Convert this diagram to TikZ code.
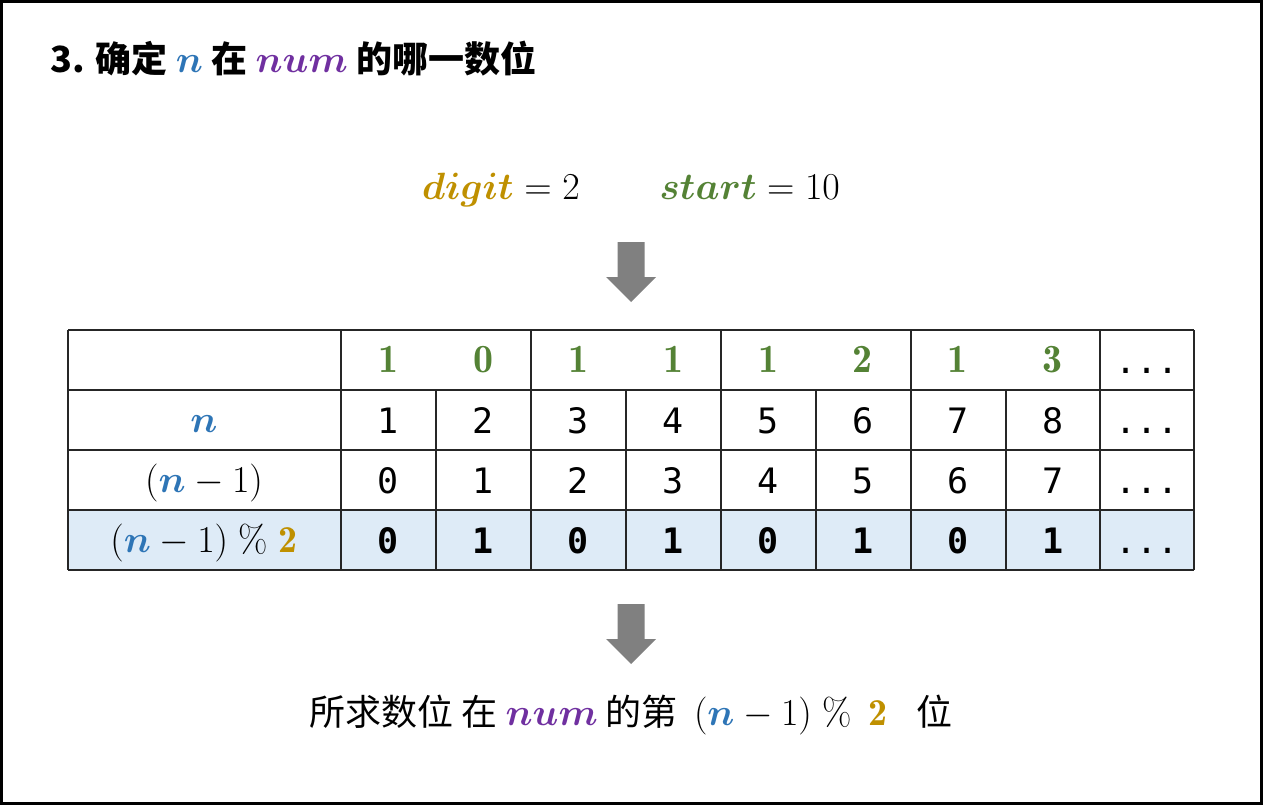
\documentclass[tikz,border=0pt]{standalone}
\usepackage{fix-cm}
\usepackage{amsmath,bm}
\usepackage{fontspec}
\newfontfamily\cjk{Noto Sans CJK SC}
\newfontfamily\monodigits{DejaVu Sans Mono}
\definecolor{nblue}{HTML}{2E75B6}
\definecolor{numpurple}{HTML}{7030A0}
\definecolor{digitgold}{HTML}{BF9000}
\definecolor{startgreen}{HTML}{548235}
\definecolor{rowblue}{HTML}{DEEBF7}
\definecolor{arrowgray}{HTML}{808080}
\newcommand{\nsym}{\textcolor{nblue}{\bm{n}}}
\newcommand{\numsym}{\textcolor{numpurple}{\bm{num}}}
\newcommand{\twosym}{\textcolor{digitgold}{\mathbf{2}}}
\newcommand{\mathbig}{\fontsize{38}{44}\selectfont}

\begin{document}
\begin{tikzpicture}[
x=1pt, y=-1pt,
big/.style={font=\mathbig},
title/.style={font=\cjk\bfseries\fontsize{36}{42}\selectfont},
say/.style={font=\cjk\fontsize{36}{42}\selectfont},
cell/.style={anchor=base, inner sep=0pt, font=\monodigits\fontsize{35}{40}\selectfont},
boldcell/.style={cell, font=\monodigits\bfseries\fontsize{35}{40}\selectfont},
startcell/.style={anchor=base, inner sep=0pt, text=startgreen, font=\fontsize{40}{44}\selectfont},
label/.style={anchor=base, inner sep=0pt, big},
grid/.style={line width=2pt, black!85},
%grid/.style={line width=1pt},
blockarrow/.pic={\fill[arrowgray] (-13.5,0) -- (13.5,0) -- (13.5,35) -- (25,35) -- (0,60) -- (-25,35) -- (-13.5,35) -- cycle;},
]
\useasboundingbox (0,0) rectangle (1263,805);
\draw[line width=3pt] (1.5,1.5) rectangle (1261.5,803.5);

\node[title, anchor=base west, inner sep=0pt] (head) at (50,73) {3. 确定 {\mathbig$\nsym$} 在 {\mathbig$\numsym$} 的哪一数位};

\node[label] (given) at (631,200) {$\textcolor{digitgold}{\bm{digit}} = 2 \hspace{2.1em} \textcolor{startgreen}{\bm{start}} = 10$};

\pic at (631,242) {blockarrow};

% table
\fill[rowblue] (68,510) rectangle (1194,570);
\foreach \y in {330,390,450,510,570}
	\draw[grid] (68,\y) -- (1194,\y);
\foreach \x in {68,341,531,721,911,1100,1194}
	\draw[grid] (\x,330) -- (\x,570);
\foreach \x in {436,626,816,1006}
	\draw[grid] (\x,390) -- (\x,570);

\node[label] (rn) at (204,432) {$\nsym$};
\node[label] (rm) at (204,492) {$(\nsym - 1)$};
\node[label] (rmod) at (204,552) {$(\nsym - 1)\;\%\;\twosym$};

\foreach \v [count=\i] in {1,0,1,1,1,2,1,3}
	\node[startcell] (s\i) at ({341+94.9*(\i-0.5)},372) {$\mathbf{\v}$};
\foreach \v [count=\i] in {1,...,8}
	\node[cell] (n\i) at ({341+94.9*(\i-0.5)},433) {\v};
\foreach \v [count=\i] in {0,...,7}
	\node[cell] (m\i) at ({341+94.9*(\i-0.5)},493) {\v};
\foreach \v [count=\i] in {0,1,0,1,0,1,0,1}
	\node[boldcell] (b\i) at ({341+94.9*(\i-0.5)},553) {\v};
\foreach \y [count=\i] in {373,433,493,553}
	\node[cell] (dots\i) at (1147,\y) {...};

\pic at (631,604) {blockarrow};

\node[say, anchor=base, inner sep=0pt] (answer) at (631,725) {所求数位 在 {\mathbig$\numsym$} 的第 \ {\mathbig$(\nsym - 1)\;\%\;\,\twosym$}\hspace{0.8em}位};
\end{tikzpicture}
\end{document}
